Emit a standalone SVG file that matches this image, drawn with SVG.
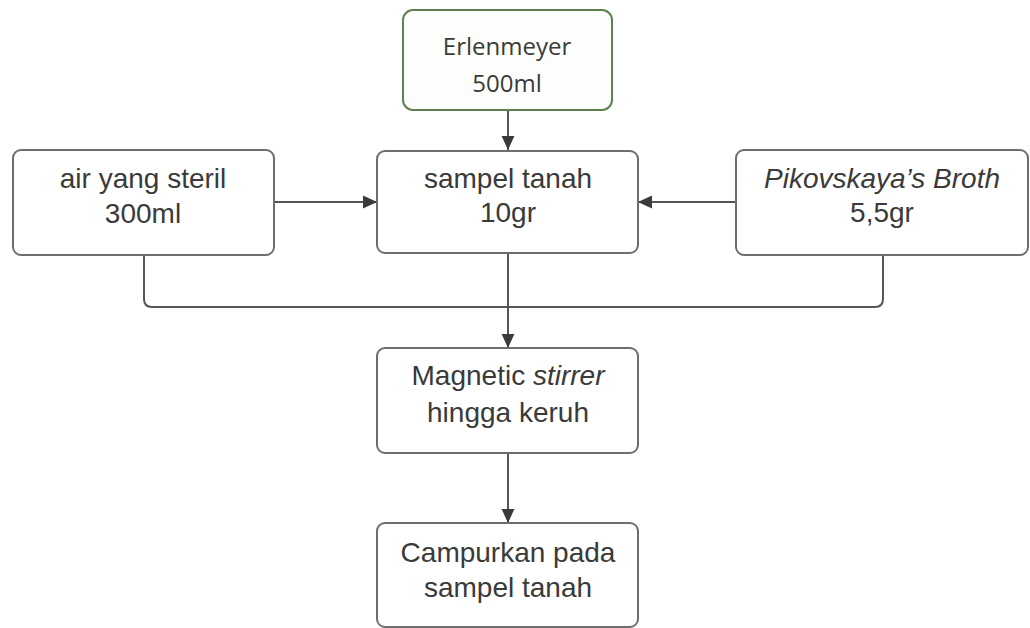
<svg xmlns="http://www.w3.org/2000/svg" width="1030" height="628" viewBox="0 0 1030 628">
<style>
.box{fill:#ffffff;stroke:#6e6e6e;stroke-width:2}
.green{fill:#fdfefb;stroke:#5f8050;stroke-width:2}
.t{font-family:"Liberation Sans",Arial,sans-serif;font-size:28px;fill:#3a3a3a;text-anchor:middle}
.o{font-family:"Open Sans","Noto Sans",sans-serif;font-size:24px;fill:#3a3a3a;text-anchor:middle}
.c{fill:none;stroke:#555555;stroke-width:2}
</style>
<defs>
<marker id="ar" viewBox="0 0 12 12" refX="12" refY="6" markerWidth="14" markerHeight="14" markerUnits="userSpaceOnUse" orient="auto">
<path d="M0,0.5 L12,6 L0,11.5 Z" fill="#3a3a3a"/>
</marker>
</defs>
<rect width="1030" height="628" fill="#ffffff"/>
<g id="connectors">
<path class="c" d="M508,110 V150" marker-end="url(#ar)"/>
<path class="c" d="M274,202 H377" marker-end="url(#ar)"/>
<path class="c" d="M736,202 H638" marker-end="url(#ar)"/>
<path class="c" d="M144,255 V299 Q144,307 152,307 H875 Q883,307 883,299 V255"/>
<path class="c" d="M508,253 V348" marker-end="url(#ar)"/>
<path class="c" d="M508,453 V523" marker-end="url(#ar)"/>
</g>
<g id="erlenmeyer">
<rect class="green" x="403" y="10" width="209" height="100" rx="10"/>
<text class="o" x="507" y="55">Erlenmeyer</text>
<text class="o" x="507" y="92">500ml</text>
</g>
<g id="air">
<rect class="box" x="13" y="150" width="261" height="105" rx="8"/>
<text class="t" x="143" y="188">air yang steril</text>
<text class="t" x="143" y="223">300ml</text>
</g>
<g id="sampel">
<rect class="box" x="377" y="151" width="261" height="102" rx="8"/>
<text class="t" x="508" y="188">sampel tanah</text>
<text class="t" x="508" y="222">10gr</text>
</g>
<g id="pikovskaya">
<rect class="box" x="736" y="150" width="292" height="105" rx="8"/>
<text class="t" x="882" y="188"><tspan font-style="italic">Pikovskaya’s Broth</tspan></text>
<text class="t" x="882" y="222">5,5gr</text>
</g>
<g id="magnetic">
<rect class="box" x="377" y="348" width="261" height="105" rx="8"/>
<text class="t" x="508" y="385">Magnetic <tspan font-style="italic">stirrer</tspan></text>
<text class="t" x="508" y="422">hingga keruh</text>
</g>
<g id="campurkan">
<rect class="box" x="377" y="523" width="261" height="104" rx="8"/>
<text class="t" x="508" y="562">Campurkan pada</text>
<text class="t" x="508" y="597">sampel tanah</text>
</g>
</svg>
